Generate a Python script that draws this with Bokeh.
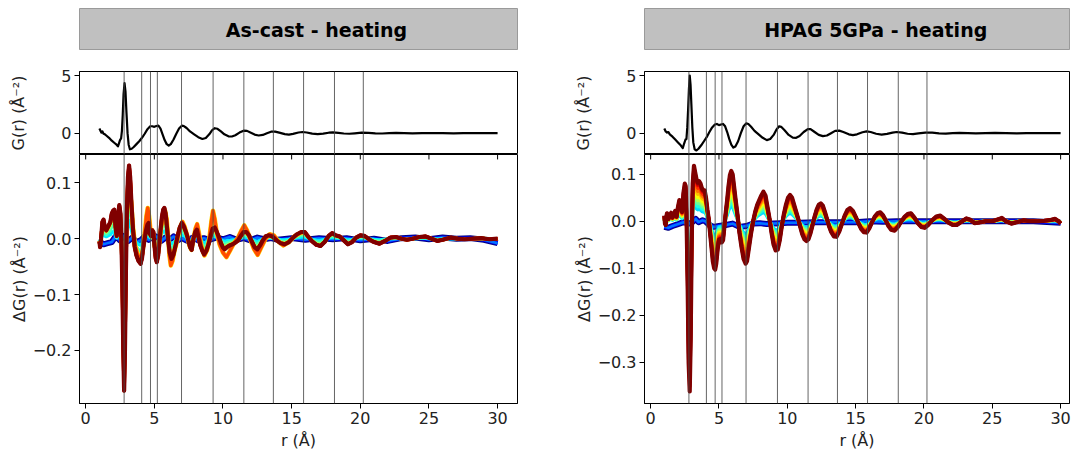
from bokeh.plotting import figure
from bokeh.layouts import row, column
from bokeh.models import Range1d, Span, FixedTicker
from bokeh.core.properties import value
from bokeh.embed import file_html
from bokeh.resources import INLINE

FONT = "DejaVu Sans"

# ---------------- data ----------------
titles = ["As-cast - heating", "HPAG 5GPa - heating"]
x_ticks = [0, 5, 10, 15, 20, 25, 30]
g_ticks = [0, 5]
dg_ticks_left = [-0.2, -0.1, 0.0, 0.1]
dg_ticks_right = [-0.3, -0.2, -0.1, 0.0, 0.1]
vline_r = [2.8, 4.08, 4.72, 5.22, 6.98, 9.28, 11.52, 13.67, 15.87, 18.12, 20.22]

# G(r) as-cast
g_left_r = [1.0, 1.08, 1.15, 1.22, 1.3, 1.4, 1.5, 1.7, 1.9, 2.1, 2.25, 2.35, 2.42, 2.5, 2.58, 2.64, 2.7, 2.76, 2.83, 2.9,
            2.97, 3.05, 3.13, 3.22, 3.35, 3.5, 3.7, 3.9, 4.1, 4.3, 4.5, 4.7, 4.85, 5.0, 5.15, 5.3, 5.45, 5.6, 5.75, 5.9,
            6.05, 6.2, 6.4, 6.6, 6.8, 7.0, 7.15, 7.35, 7.6, 7.9, 8.2, 8.5, 8.75, 9.0, 9.2, 9.4, 9.6, 9.85, 10.1, 10.4,
            10.65, 10.9, 11.2, 11.5, 11.75, 12.0, 12.3, 12.6, 12.9, 13.2, 13.5, 13.8, 14.1, 14.5, 14.8, 15.1, 15.5, 15.8,
            16.1, 16.5, 16.9, 17.3, 17.7, 18.0, 18.4, 18.8, 19.2, 19.6, 20.1, 20.6, 21.1, 21.6, 22.1, 22.6, 23.2, 23.8,
            24.5, 25.2, 26.0, 26.8, 27.5, 28.3, 29.0, 30.0]
g_left_v = [0.4, 0.2, 0.05, 0.15, -0.05, -0.1, -0.2, -0.4, -0.65, -0.85, -1.0, -1.15, -0.9, -0.6, -0.45, 0.2, 1.6, 3.4, 4.35, 3.6,
            1.8, 0.0, -1.0, -1.4, -1.35, -1.2, -0.95, -0.7, -0.4, -0.05, 0.35, 0.6, 0.6, 0.55, 0.62, 0.65, 0.4, -0.1, -0.6, -0.95,
            -1.07, -0.95, -0.55, -0.05, 0.4, 0.65, 0.62, 0.45, 0.15, -0.1, -0.35, -0.5, -0.42, -0.1, 0.25, 0.43, 0.38, 0.15, -0.1, -0.27,
            -0.29, -0.18, 0.05, 0.22, 0.2, 0.05, -0.12, -0.2, -0.15, 0.0, 0.13, 0.14, 0.05, -0.08, -0.12, -0.06, 0.06, 0.1,
            0.06, -0.04, -0.08, -0.04, 0.04, 0.07, 0.03, -0.03, -0.05, -0.01, 0.04, 0.03, -0.01, -0.03, 0.0, 0.02, 0.01, -0.01,
            0.0, 0.015, 0.0, -0.01, 0.005, 0.0, 0.0, 0.0]

# G(r) HPAG
g_right_r = [1.0, 1.1, 1.2, 1.3, 1.4, 1.6, 1.8, 2.0, 2.2, 2.35, 2.45, 2.55, 2.62, 2.68, 2.74, 2.8, 2.86, 2.92, 2.98, 3.05,
             3.12, 3.22, 3.35, 3.5, 3.7, 3.9, 4.1, 4.3, 4.5, 4.7, 4.85, 5.0, 5.15, 5.3, 5.45, 5.6, 5.75, 5.9, 6.05, 6.2,
             6.4, 6.6, 6.8, 7.0, 7.15, 7.35, 7.6, 7.9, 8.2, 8.5, 8.75, 9.0, 9.2, 9.4, 9.55, 9.8, 10.1, 10.4, 10.65, 10.9,
             11.2, 11.5, 11.7, 12.0, 12.3, 12.6, 12.9, 13.2, 13.5, 13.8, 14.1, 14.5, 14.8, 15.1, 15.5, 15.8, 16.1, 16.5,
             16.9, 17.3, 17.7, 18.0, 18.4, 18.8, 19.2, 19.6, 20.1, 20.6, 21.1, 21.6, 22.1, 22.6, 23.2, 23.8, 24.5, 25.2,
             26.0, 26.8, 27.5, 28.3, 29.0, 30.0]
g_right_v = [0.4, 0.15, 0.05, 0.1, -0.1, -0.3, -0.55, -0.8, -1.05, -1.3, -0.9, -0.55, -0.5, 0.5, 2.0, 3.8, 5.0, 4.2, 2.5, 0.5,
             -0.8, -1.4, -1.5, -1.35, -1.05, -0.7, -0.35, 0.1, 0.5, 0.75, 0.8, 0.7, 0.75, 0.8, 0.6, 0.1, -0.5, -1.0, -1.25, -1.15,
             -0.7, 0.0, 0.6, 0.85, 0.8, 0.55, 0.2, -0.1, -0.4, -0.6, -0.5, -0.15, 0.3, 0.6, 0.55, 0.25, -0.15, -0.38, -0.4, -0.25,
             0.1, 0.35, 0.35, 0.1, -0.15, -0.26, -0.2, 0.0, 0.2, 0.22, 0.1, -0.1, -0.17, -0.1, 0.08, 0.15, 0.1, -0.05,
             -0.12, -0.06, 0.05, 0.1, 0.05, -0.05, -0.08, -0.02, 0.05, 0.04, -0.02, -0.04, 0.0, 0.03, 0.01, -0.02, 0.0, 0.02,
             0.0, -0.01, 0.01, 0.0, 0.0, 0.0]

# dG(r) as-cast, final (dark red) curve
dg_left_r = [1.0, 1.05, 1.12, 1.22, 1.3, 1.4, 1.5, 1.6, 1.7, 1.8, 1.9, 2.0, 2.08, 2.18, 2.26, 2.35, 2.45, 2.53, 2.6, 2.67,
             2.74, 2.8, 2.86, 2.93, 3.0, 3.08, 3.16, 3.24, 3.34, 3.45, 3.57, 3.7, 3.85, 4.0, 4.1, 4.2, 4.3, 4.4, 4.5, 4.58,
             4.66, 4.75, 4.85, 4.93, 5.0, 5.1, 5.18, 5.28, 5.38, 5.47, 5.56, 5.65, 5.73, 5.82, 5.92, 6.02, 6.12, 6.25, 6.4, 6.55,
             6.7, 6.85, 7.0, 7.15, 7.3, 7.45, 7.6, 7.72, 7.85, 7.98, 8.1, 8.2, 8.35, 8.5, 8.62, 8.78, 8.95, 9.1, 9.25, 9.4,
             9.55, 9.7, 9.85, 10.0, 10.12, 10.3, 10.5, 10.7, 10.9, 11.1, 11.3, 11.5, 11.7, 11.9, 12.1, 12.3, 12.5, 12.7, 12.9, 13.1,
             13.3, 13.6, 13.9, 14.2, 14.5, 14.8, 15.1, 15.4, 15.7, 15.95, 16.2, 16.5, 16.8, 17.1, 17.4, 17.7, 17.95, 18.2, 18.5, 18.8,
             19.1, 19.4, 19.7, 20.0, 20.3, 20.7, 21.0, 21.4, 21.8, 22.2, 22.6, 23.0, 23.4, 23.8, 24.3, 24.75, 25.2, 25.6, 26.0, 26.6,
             27.1, 27.6, 28.2, 28.8, 29.4, 30.0]
dg_left_v = [-0.005, -0.015, 0.0, 0.03, 0.034, 0.02, 0.015, 0.02, 0.025, 0.03, 0.045, 0.05, 0.052, 0.02, 0.005, 0.04, 0.06, 0.045, 0.0, -0.08,
             -0.2, -0.272, -0.2, -0.06, 0.05, 0.11, 0.131, 0.11, 0.06, 0.015, -0.015, -0.03, -0.04, -0.045, -0.035, -0.015, 0.0, 0.015, 0.025, 0.028,
             0.01, 0.005, 0.015, 0.012, -0.01, -0.035, -0.042, -0.03, -0.005, 0.02, 0.04, 0.052, 0.055, 0.045, 0.02, -0.005, -0.025, -0.036, -0.028, -0.012,
             0.005, 0.02, 0.028, 0.022, 0.012, 0.0, -0.015, -0.02, 0.0, 0.012, 0.016, 0.005, -0.012, -0.022, -0.028, -0.022, -0.01, 0.005, 0.018, 0.02,
             0.012, 0.003, -0.008, -0.016, -0.019, -0.015, -0.012, -0.01, -0.007, -0.003, 0.005, 0.012, 0.012, 0.006, -0.005, -0.015, -0.019, -0.012, -0.003, 0.004,
             0.006, 0.004, -0.003, -0.008, -0.01, -0.006, 0.002, 0.008, 0.012, 0.012, 0.004, -0.005, -0.011, -0.013, -0.006, 0.005, 0.01, 0.006, 0.004, -0.003,
             -0.01, -0.006, 0.002, 0.006, 0.005, -0.002, -0.006, -0.009, -0.004, 0.002, 0.003, 0.0, -0.002, 0.0, 0.003, 0.004, 0.0, -0.004, -0.002, 0.002,
             0.0, -0.001, 0.0, 0.001, -0.001, 0.0]

# dG(r) as-cast, intermediate (yellow / orange) curves, mid range
dg_left_mid_r = [3.3, 3.45, 3.6, 3.8, 4.0, 4.15, 4.3, 4.42, 4.52, 4.62, 4.72, 4.85, 5.0, 5.12, 5.22, 5.35, 5.5, 5.65, 5.78, 5.9,
                 6.0, 6.1, 6.2, 6.32, 6.48, 6.65, 6.85, 7.05, 7.2, 7.4, 7.55, 7.7, 7.85, 8.0, 8.12, 8.25, 8.45, 8.65, 8.85, 9.0,
                 9.15, 9.27, 9.4, 9.55, 9.75, 10.0, 10.25, 10.5, 10.8, 11.1, 11.35, 11.55, 11.75, 12.0, 12.25, 12.52, 12.8, 13.1, 13.4, 13.7,
                 14.0, 14.4, 14.8, 15.2, 15.6, 15.95]
dg_left_mid_v = [0.07, 0.02, -0.012, -0.03, -0.037, -0.02, 0.01, 0.04, 0.055, 0.04, 0.015, 0.015, -0.005, -0.028, -0.032, -0.01, 0.02, 0.045, 0.05, 0.035,
                 0.005, -0.03, -0.048, -0.04, -0.02, -0.005, 0.018, 0.03, 0.022, 0.005, -0.012, -0.02, 0.0, 0.018, 0.026, 0.01, -0.015, -0.03, -0.02, 0.0,
                 0.03, 0.05, 0.035, 0.01, -0.01, -0.025, -0.033, -0.022, -0.008, 0.002, 0.015, 0.024, 0.015, -0.002, -0.018, -0.029, -0.015, 0.0, 0.008, 0.006,
                 -0.004, -0.012, -0.006, 0.004, 0.01, 0.012]

# dG(r) as-cast, early (blue) curves
dg_left_blue_r = [1.0, 1.3, 1.6, 1.9, 2.2, 2.5, 2.8, 3.1, 3.4, 3.7, 4.0, 4.3, 4.6, 4.9, 5.2, 5.5, 5.8, 6.1, 6.4, 6.7,
                  7.0, 7.4, 7.8, 8.2, 8.6, 9.0, 9.5, 10.0, 10.5, 11.0, 11.5, 12.0, 12.5, 13.0, 13.5, 14.0, 15.0, 16.0, 17.0, 18.0,
                  19.0, 20.0, 21.0, 22.0, 23.0, 24.0, 25.0, 26.0, 27.0, 28.0, 29.0, 30.0]
dg_left_blue_v = [-0.005, -0.01, -0.008, -0.006, 0.005, -0.003, 0.005, -0.004, 0.002, -0.006, -0.003, 0.004, -0.002, 0.006, 0.003, -0.004, 0.002, -0.002, 0.004, -0.003,
                  0.001, -0.004, 0.002, -0.003, 0.001, -0.002, 0.002, -0.001, 0.003, -0.002, 0.001, -0.003, 0.002, -0.001, 0.001, -0.002, 0.001, -0.002, 0.001, -0.001,
                  0.001, -0.003, 0.0, -0.004, 0.001, 0.002, -0.001, 0.002, 0.0, 0.001, -0.002, -0.008]

# dG(r) HPAG, final (dark red) curve
dg_right_r = [1.0, 1.05, 1.1, 1.15, 1.2, 1.3, 1.4, 1.5, 1.6, 1.7, 1.8, 1.9, 2.0, 2.1, 2.2, 2.3, 2.4, 2.5, 2.56, 2.62,
              2.7, 2.78, 2.86, 2.93, 3.0, 3.08, 3.17, 3.25, 3.35, 3.45, 3.55, 3.65, 3.75, 3.85, 3.95, 4.05, 4.15, 4.25, 4.35, 4.45,
              4.55, 4.65, 4.72, 4.8, 4.9, 5.0, 5.1, 5.2, 5.3, 5.4, 5.5, 5.6, 5.7, 5.8, 5.9, 6.0, 6.1, 6.2, 6.35, 6.5,
              6.65, 6.8, 6.95, 7.05, 7.2, 7.35, 7.5, 7.65, 7.8, 7.95, 8.1, 8.25, 8.4, 8.55, 8.7, 8.85, 9.0, 9.15, 9.3, 9.45,
              9.6, 9.75, 9.9, 10.05, 10.2, 10.35, 10.5, 10.65, 10.8, 10.95, 11.1, 11.25, 11.4, 11.55, 11.7, 11.85, 12.0, 12.15, 12.3, 12.45,
              12.6, 12.75, 12.9, 13.05, 13.2, 13.4, 13.6, 13.8, 14.0, 14.2, 14.4, 14.6, 14.8, 15.0, 15.2, 15.4, 15.6, 15.8, 16.0, 16.2,
              16.4, 16.6, 16.8, 17.0, 17.2, 17.4, 17.6, 17.85, 18.1, 18.35, 18.6, 18.85, 19.05, 19.3, 19.55, 19.8, 20.05, 20.3, 20.6, 20.9,
              21.2, 21.5, 21.8, 22.1, 22.4, 22.8, 23.1, 23.4, 23.7, 24.0, 24.5, 25.0, 25.4, 25.7, 26.0, 26.4, 26.8, 27.3, 27.8, 28.3,
              28.8, 29.3, 29.6, 29.85, 30.0]
dg_right_v = [0.012, -0.005, -0.008, 0.01, 0.017, 0.005, 0.012, 0.018, 0.008, 0.015, 0.022, 0.01, 0.03, 0.045, 0.035, 0.02, 0.06, 0.08, 0.075, 0.02,
              -0.12, -0.3, -0.362, -0.25, -0.05, 0.08, 0.118, 0.105, 0.09, 0.082, 0.085, 0.08, 0.07, 0.066, 0.066, 0.05, 0.025, 0.005, -0.025, -0.055,
              -0.085, -0.1, -0.103, -0.09, -0.06, -0.04, -0.038, -0.045, -0.04, -0.01, 0.02, 0.045, 0.075, 0.098, 0.107, 0.1, 0.075, 0.05, 0.015, -0.025,
              -0.055, -0.08, -0.09, -0.085, -0.055, -0.025, 0.0, 0.02, 0.035, 0.045, 0.055, 0.063, 0.055, 0.03, 0.005, -0.025, -0.05, -0.062, -0.06, -0.04,
              -0.01, 0.015, 0.035, 0.05, 0.056, 0.05, 0.035, 0.02, 0.005, -0.012, -0.028, -0.038, -0.042, -0.038, -0.025, -0.008, 0.01, 0.025, 0.035, 0.038,
              0.033, 0.02, 0.005, -0.01, -0.022, -0.032, -0.033, -0.022, -0.005, 0.012, 0.024, 0.028, 0.022, 0.01, -0.004, -0.016, -0.023, -0.024, -0.015, -0.002,
              0.01, 0.017, 0.019, 0.013, 0.002, -0.01, -0.018, -0.02, -0.012, 0.0, 0.01, 0.016, 0.017, 0.008, -0.004, -0.012, -0.014, -0.008, 0.002, 0.01,
              0.012, 0.005, -0.003, -0.008, -0.008, 0.0, 0.006, 0.003, -0.004, -0.003, 0.0, 0.0, 0.004, 0.007, 0.0, -0.005, -0.002, 0.002, 0.0, 0.0,
              0.001, 0.003, 0.005, 0.0, -0.005]

# dG(r) HPAG, early (blue) curves
dg_right_blue_r = [1.0, 1.3, 1.6, 2.0, 2.4, 2.8, 3.0, 3.3, 3.5, 3.8, 4.0, 4.3, 4.6, 5.0, 5.5, 6.0, 6.5, 7.0, 7.5, 8.0,
                   8.5, 9.0, 9.5, 10.0, 11.0, 12.0, 13.0, 14.0, 15.0, 16.0, 17.0, 18.0, 20.0, 22.0, 25.0, 28.0, 30.0]
dg_right_blue_v = [-0.012, -0.014, -0.01, -0.006, -0.002, -0.005, -0.003, 0.005, -0.002, 0.002, 0.0, -0.008, -0.012, -0.01, -0.008, -0.005, -0.012, -0.01, -0.005, -0.004,
                   -0.006, -0.005, -0.004, -0.003, -0.003, -0.002, -0.002, -0.002, -0.002, 0.0, -0.001, 0.0, 0.0, 0.0, 0.0, 0.0, -0.003]

# relative amplitude of each heating step (fraction of the final dG curve) and its colour position
steps_left_t = [0.36, 0.44, 0.52, 0.6, 0.68, 0.76, 0.84, 0.92]
steps_left_amp = [0.25, 0.5, 0.75, 0.9, 0.95, 0.97, 1.0, 1.0]
steps_right_t = [0.34, 0.41, 0.48, 0.55, 0.62, 0.69, 0.76, 0.83, 0.9, 0.95]
steps_right_amp = [0.3, 0.38, 0.46, 0.54, 0.62, 0.7, 0.78, 0.86, 0.93, 0.97]

TICK_PX = "16px"
TITLE_PX = "19px"
DG_FRAME_H = 252


def jet(t):
    def c(x):
        return int(round(255 * min(max(x, 0.0), 1.0)))
    return "#%02x%02x%02x" % (c(1.5 - abs(4 * t - 3)), c(1.5 - abs(4 * t - 2)), c(1.5 - abs(4 * t - 1)))


def style_axis(ax, ticks):
    ax.ticker = FixedTicker(ticks=ticks)
    ax.minor_tick_line_color = None
    ax.major_tick_in = 0
    ax.major_tick_out = 5
    ax.axis_line_color = "black"
    ax.major_tick_line_color = "black"
    ax.major_label_text_font = FONT
    ax.major_label_text_font_size = TICK_PX
    ax.major_label_text_color = "#222222"
    ax.axis_label_text_font = FONT
    ax.axis_label_text_font_size = TICK_PX
    ax.axis_label_text_font_style = "normal"
    ax.axis_label_text_color = "#222222"
    ax.major_label_standoff = 3


def minus_labels(ticks):
    return {t: ("%.1f" % t).replace("-", "\u2212") for t in ticks}


def panel(title, title_x, g_r, g_v, dg_r, dg_v, blue_r, blue_v, steps_t, steps_amp, mid_r, mid_v,
          dg_range, dg_ticks, x_end, bl, br, width):
    xr = Range1d(-0.45, x_end)

    pt = figure(width=width, height=50, x_range=Range1d(0, 1), y_range=Range1d(0, 1),
                x_axis_location=None, y_axis_location=None, output_backend="svg",
                toolbar_location=None, min_border_left=bl, min_border_right=br,
                min_border_top=8, min_border_bottom=0,
                background_fill_color="#c0c0c0", outline_line_color="#9a9a9a",
                border_fill_color="white")
    pt.grid.grid_line_color = None
    pt.text(x=[title_x], y=[0.5], text=[title], text_align="center", text_baseline="middle",
            text_font=value(FONT), text_font_style="bold", text_font_size=TITLE_PX,
            text_color="black")

    pg = figure(width=width, height=104, x_range=xr, y_range=Range1d(-1.85, 5.35),
                x_axis_location=None, output_backend="svg", toolbar_location=None,
                min_border_left=bl, min_border_right=br, min_border_top=21, min_border_bottom=0,
                outline_line_color="black", border_fill_color="white")
    pg.grid.grid_line_color = None
    style_axis(pg.yaxis[0], g_ticks)
    pg.yaxis[0].axis_label = "G(r) (\u00c5\u207b\u00b2)"
    pg.yaxis[0].axis_label_standoff = 30
    pg.line(g_r, g_v, line_color="black", line_width=2.2, line_join="round")

    pd = figure(width=width, height=DG_FRAME_H + 46, x_range=xr, y_range=Range1d(*dg_range),
                output_backend="svg", toolbar_location=None,
                min_border_left=bl, min_border_right=br, min_border_top=0, min_border_bottom=46,
                outline_line_color="black", border_fill_color="white")
    pd.grid.grid_line_color = None
    style_axis(pd.xaxis[0], x_ticks)
    style_axis(pd.yaxis[0], dg_ticks)
    pd.yaxis[0].major_label_overrides = minus_labels(dg_ticks)
    pd.xaxis[0].axis_label = "r (\u00c5)"
    pd.xaxis[0].axis_label_standoff = 4
    pd.yaxis[0].axis_label = "\u0394G(r) (\u00c5\u207b\u00b2)"
    pd.yaxis[0].axis_label_standoff = 1

    # early (blue) steps
    pd.line(blue_r, blue_v, line_color=jet(0.0), line_width=6, line_join="round")
    pd.line(blue_r, blue_v, line_color=jet(0.12), line_width=4, line_join="round")
    pd.line(blue_r, blue_v, line_color=jet(0.24), line_width=2.5, line_join="round")
    # later steps
    for t, a in zip(steps_t, steps_amp):
        pd.line(dg_r, [a * v for v in dg_v], line_color=jet(t), line_width=3.5, line_join="round")
    if mid_r is not None:
        pd.line(mid_r, mid_v, line_color=jet(0.66), line_width=4.5, line_join="round")
        pd.line(mid_r, mid_v, line_color=jet(0.8), line_width=3.5, line_join="round")
    pd.line(dg_r, dg_v, line_color=jet(1.0), line_width=4.2, line_join="round")

    # tick marks of the G(r) axes' bottom edge, pointing down into the dG(r) axes
    top = dg_range[1]
    tick_len = 5 * (dg_range[1] - dg_range[0]) / DG_FRAME_H
    pd.segment(x0=x_ticks, y0=[top] * len(x_ticks), x1=x_ticks, y1=[top - tick_len] * len(x_ticks),
               line_color="black", line_width=1)

    for r in vline_r:
        for p in (pg, pd):
            p.add_layout(Span(location=r, dimension="height", line_color="#4a4a4a",
                              line_width=1, line_alpha=0.85))
    return column(pt, pg, pd, spacing=0)


left = panel(titles[0], 0.541, g_left_r, g_left_v, dg_left_r, dg_left_v, dg_left_blue_r, dg_left_blue_v,
             steps_left_t, steps_left_amp, dg_left_mid_r, dg_left_mid_v,
             (-0.295, 0.1507), dg_ticks_left, 31.45, 79, 54, 571)
right = panel(titles[1], 0.544, g_right_r, g_right_v, dg_right_r, dg_right_v, dg_right_blue_r, dg_right_blue_v,
              steps_right_t, steps_right_amp, None, None,
              (-0.3876, 0.142), dg_ticks_right, 30.65, 71, 6, 504)

layout = row(left, right, spacing=0)
open("out.html", "w").write(file_html(layout, INLINE))
